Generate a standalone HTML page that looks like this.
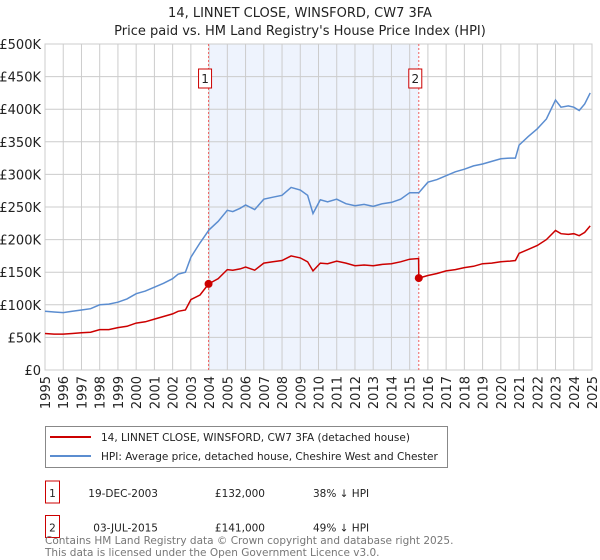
<!DOCTYPE html>
<html><head><meta charset="utf-8"><style>
body{margin:0;background:#fff;font-family:"DejaVu Sans","Liberation Sans",sans-serif;}
#wrap{position:relative;width:600px;height:560px;overflow:hidden}
</style></head><body>
<div id="wrap">
<svg id="chart" width="600" height="560" style="position:absolute;left:0;top:0;font-family:'DejaVu Sans','Liberation Sans',sans-serif"></svg>
</div>
<script>
const hpiYears=[1995,1995.5,1996,1996.5,1997,1997.5,1998,1998.5,1999,1999.5,2000,2000.5,2001,2001.5,2002,2002.3,2002.7,2003,2003.5,2004,2004.5,2005,2005.3,2005.7,2006,2006.5,2007,2007.5,2008,2008.5,2009,2009.4,2009.7,2010.1,2010.5,2011,2011.5,2012,2012.5,2013,2013.5,2014,2014.5,2015,2015.5,2016,2016.5,2017,2017.5,2018,2018.5,2019,2019.5,2020,2020.5,2020.8,2021,2021.5,2022,2022.5,2023,2023.3,2023.7,2024,2024.3,2024.6,2024.9];
const hpiValues=[90,89,88,90,92,94,100,101,104,109,117,121,127,133,140,147,150,173,195,215,228,245,243,248,253,246,262,265,268,280,276,268,240,261,258,262,255,252,254,251,255,257,262,272,272,288,292,298,304,308,313,316,320,324,325,325,345,358,370,385,414,403,405,403,398,408,425];
const paidYears=[1995,1995.5,1996,1996.5,1997,1997.5,1998,1998.5,1999,1999.5,2000,2000.5,2001,2001.5,2002,2002.3,2002.7,2003,2003.5,2003.97,2004.5,2005,2005.3,2005.7,2006,2006.5,2007,2007.5,2008,2008.5,2009,2009.4,2009.7,2010.1,2010.5,2011,2011.5,2012,2012.5,2013,2013.5,2014,2014.5,2015,2015.49,2015.5,2016,2016.5,2017,2017.5,2018,2018.5,2019,2019.5,2020,2020.5,2020.8,2021,2021.5,2022,2022.5,2023,2023.3,2023.7,2024,2024.3,2024.6,2024.9];
const paidValues=[56,55,55,56,57,58,62,62,65,67,72,74,78,82,86,90,92,108,115,132,140,154,153,155,158,153,164,166,168,175,172,166,152,164,163,167,164,160,161,160,162,163,166,170,171,141,145,148,152,154,157,159,163,164,166,167,168,179,185,191,200,214,209,208,209,206,211,221];
const yTicks=[0,50,100,150,200,250,300,350,400,450,500];
const yTickLabels=["£0","£50K","£100K","£150K","£200K","£250K","£300K","£350K","£400K","£450K","£500K"];
const xTicks=[1995,1996,1997,1998,1999,2000,2001,2002,2003,2004,2005,2006,2007,2008,2009,2010,2011,2012,2013,2014,2015,2016,2017,2018,2019,2020,2021,2022,2023,2024,2025];
const saleDates=[2003.97,2015.5];
const salePrices=[132,141];
const saleLabels=["1","2"];
const saleDateText=["19-DEC-2003","03-JUL-2015"];
const salePriceText=["£132,000","£141,000"];
const saleHpiText=["38% ↓ HPI","49% ↓ HPI"];

const L=45,R=592,T=44,B=370;
const X=y=>L+(y-1995)/30*(R-L);
const Y=v=>B-v/500*(B-T);
const svg=document.getElementById('chart');
const NS='http://www.w3.org/2000/svg';
function mk(tag,attrs,parent){const e=document.createElementNS(NS,tag);for(const k in attrs)e.setAttribute(k,attrs[k]);(parent||svg).appendChild(e);return e;}

let t=mk('text',{x:300,y:17,'text-anchor':'middle','font-size':13,fill:'#222'});t.textContent='14, LINNET CLOSE, WINSFORD, CW7 3FA';


t=mk('text',{x:300,y:35,'text-anchor':'middle','font-size':13,fill:'#222'});t.textContent="Price paid vs. HM Land Registry's House Price Index (HPI)";



let band=mk('rect',{x:X(saleDates[0]),y:T,width:X(saleDates[1])-X(saleDates[0]),height:B-T,fill:'#eef3fd'});



yTicks.forEach((v,i)=>{
  const g=mk('line',{x1:L,x2:R,y1:Y(v),y2:Y(v),stroke:'#cccccc','stroke-width':1});
  
  
  const l=mk('text',{x:L-4,y:Y(v)+5,'text-anchor':'end','font-size':13,fill:'#222'});l.textContent=yTickLabels[i];
  
  
});
xTicks.forEach(yr=>{
  const g=mk('line',{x1:X(yr),x2:X(yr),y1:T,y2:B,stroke:'#cccccc','stroke-width':1});
  
  
  const l=mk('text',{x:0,y:0,'text-anchor':'end','font-size':13,fill:'#222',transform:`translate(${X(yr)+5},${B+6}) rotate(-90)`});l.textContent=yr;
  
  
});
let ax=mk('rect',{x:L,y:T,width:R-L,height:B-T,fill:'none',stroke:'#cccccc'});



saleDates.forEach((d,i)=>{
  const l=mk('line',{x1:X(d),x2:X(d),y1:T,y2:B,stroke:'#f06060','stroke-width':1,'stroke-dasharray':'2,2'});
  
  
  const bx=mk('rect',{x:X(d)-10,y:69,width:13,height:19,fill:'#fff',stroke:'#cc0000','stroke-width':1});
  
  
  const tx=mk('text',{x:X(d)-3.5,y:83,'text-anchor':'middle','font-size':12,fill:'#222'});tx.textContent=saleLabels[i];
  
  
});

function path(xs,vs){return xs.map((x,i)=>(i?'L':'M')+X(x).toFixed(1)+','+Y(vs[i]).toFixed(1)).join('');}
let hp=mk('path',{d:path(hpiYears,hpiValues),fill:'none',stroke:'#5b8dd0','stroke-width':1.5});


let pp=mk('path',{d:path(paidYears,paidValues),fill:'none',stroke:'#cc0000','stroke-width':1.5});


saleDates.forEach((d,i)=>{
  const c=mk('circle',{cx:X(d),cy:Y(salePrices[i]),r:4,fill:'#cc0000'});
  
  
});

let lg=mk('rect',{x:45.5,y:426.5,width:402,height:41,fill:'#fff',stroke:'#888'});


let ll=mk('line',{x1:50,x2:91,y1:437,y2:437,stroke:'#cc0000','stroke-width':2});


let lt=mk('text',{x:101,y:441,'font-size':10.5,fill:'#222'});lt.textContent='14, LINNET CLOSE, WINSFORD, CW7 3FA (detached house)';


ll=mk('line',{x1:50,x2:91,y1:456,y2:456,stroke:'#5b8dd0','stroke-width':2});


lt=mk('text',{x:101,y:460,'font-size':10.5,fill:'#222'});lt.textContent='HPI: Average price, detached house, Cheshire West and Chester';



saleDates.forEach((d,i)=>{
  const yy=493+i*34.5;
  const b=mk('rect',{x:45.5,y:yy-12,width:14,height:22,fill:'#fff',stroke:'#cc0000'});
  
  
  const n=mk('text',{x:52.5,y:yy+4,'text-anchor':'middle','font-size':10.5,fill:'#222'});n.textContent=saleLabels[i];
  
  
  const a=mk('text',{x:158,y:yy+4,'text-anchor':'end','font-size':10.5,fill:'#222'});a.textContent=saleDateText[i];
  
  
  const p=mk('text',{x:265,y:yy+4,'text-anchor':'end','font-size':10.5,fill:'#222'});p.textContent=salePriceText[i];
  
  
  const h=mk('text',{x:313,y:yy+4,'font-size':10.5,fill:'#222'});h.textContent=saleHpiText[i];
  
  
});
let f=mk('text',{x:45,y:544,'font-size':10.5,fill:'#777'});f.textContent='Contains HM Land Registry data © Crown copyright and database right 2025.';


f=mk('text',{x:45,y:556,'font-size':10.5,fill:'#777'});f.textContent='This data is licensed under the Open Government Licence v3.0.';


</script>
</body></html>
